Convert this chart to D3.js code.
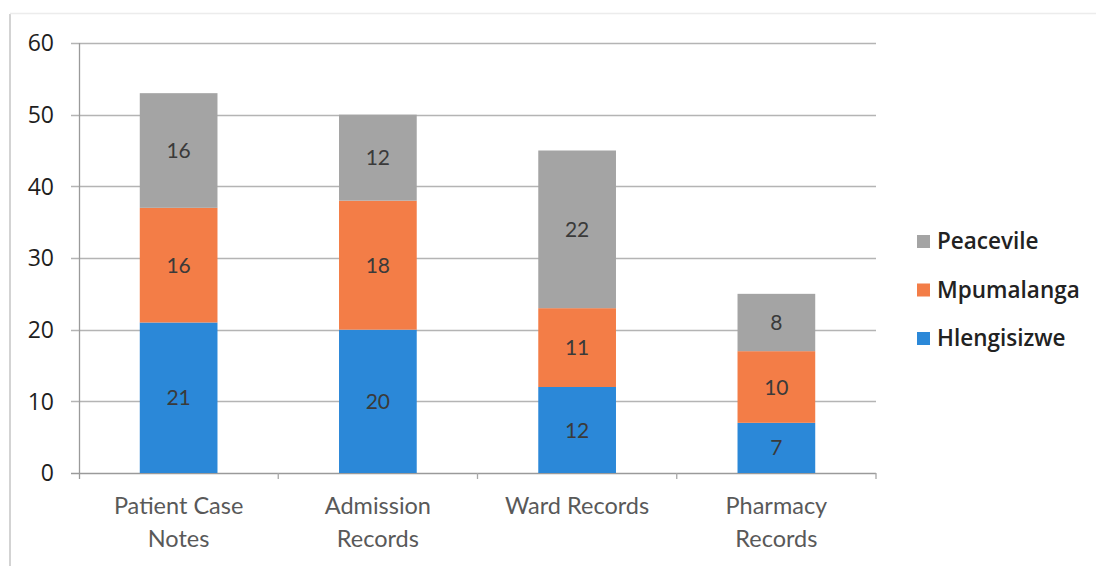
<!DOCTYPE html>
<html>
<head>
<meta charset="utf-8">
<script src="https://cdn.jsdelivr.net/npm/d3@7"></script>
<style>
  html, body { margin: 0; padding: 0; background: #fff; }
  svg { display: block; }
  text { font-family: Lato, "Open Sans", sans-serif; }
</style>
</head>
<body>
<svg id="chart" width="1096" height="566"></svg>
<script>
// Record types audited at each hospital
const categories = [["Patient Case", "Notes"], ["Admission", "Records"], ["Ward Records"], ["Pharmacy", "Records"]];
const hlengisizwe = [21, 20, 12, 7];
const mpumalanga = [16, 18, 11, 10];
const peacevile = [16, 12, 22, 8];
const seriesNames = ["Hlengisizwe", "Mpumalanga", "Peacevile"];
const seriesColors = ["#2b88d8", "#f37d47", "#a4a4a4"];
const yTicks = [0, 10, 20, 30, 40, 50, 60];

const svg = d3.select("#chart");
const margin = { left: 79, right: 876, top: 43, bottom: 473 };

// Outer frame
svg.append("line").attr("x1", 10).attr("x2", 10).attr("y1", 14).attr("y2", 566)
  .attr("stroke", "#c4c4c4").attr("stroke-width", 1.5);
svg.append("line").attr("x1", 10).attr("x2", 1096).attr("y1", 13.5).attr("y2", 13.5)
  .attr("stroke", "#ececec").attr("stroke-width", 1.5);

const keys = categories.map(c => c.join(" "));
const x = d3.scaleBand().domain(keys).range([margin.left, margin.right]).paddingInner(0.61).paddingOuter(0.305);
const y = d3.scaleLinear().domain([0, 60]).range([margin.bottom, margin.top]);

// Horizontal gridlines with short left ticks
svg.append("g").selectAll("line").data(yTicks).join("line")
  .attr("x1", margin.left - 8).attr("x2", margin.right)
  .attr("y1", d => Math.round(y(d)) + 0.5).attr("y2", d => Math.round(y(d)) + 0.5)
  .attr("stroke", d => d === 0 ? "#9a9a9a" : "#b4b4b4").attr("stroke-width", 1.3);

// Vertical axis line
svg.append("line").attr("x1", margin.left + 0.5).attr("x2", margin.left + 0.5)
  .attr("y1", margin.top).attr("y2", margin.bottom + 6)
  .attr("stroke", "#9a9a9a").attr("stroke-width", 1.3);

// Category boundary ticks
const step = x.step();
const bounds = d3.range(1, keys.length + 1).map(i => margin.left + i * step);
svg.append("g").selectAll("line").data(bounds).join("line")
  .attr("x1", d => d).attr("x2", d => d)
  .attr("y1", margin.bottom).attr("y2", margin.bottom + 6)
  .attr("stroke", "#a8a8a8").attr("stroke-width", 1.3);

// Y tick labels
svg.append("g").selectAll("text").data(yTicks).join("text")
  .attr("x", 54).attr("y", d => y(d))
  .attr("dy", "0.36em").attr("text-anchor", "end")
  .attr("font-size", 23).attr("font-weight", 500).attr("fill", "#1e1e1e")
  .style("font-family", "'Open Sans', sans-serif")
  .text(d => d);

// Stacked bars
const rows = keys.map((k, i) => ({ key: k, Hlengisizwe: hlengisizwe[i], Mpumalanga: mpumalanga[i], Peacevile: peacevile[i] }));
const stack = d3.stack().keys(seriesNames)(rows);

const layers = svg.append("g").selectAll("g").data(stack).join("g")
  .attr("fill", (d, i) => seriesColors[i]);
layers.selectAll("rect").data(d => d).join("rect")
  .attr("x", d => x(d.data.key))
  .attr("width", x.bandwidth())
  .attr("y", d => y(d[1]))
  .attr("height", d => y(d[0]) - y(d[1]));

// Value labels inside each segment
layers.selectAll("text").data(d => d.map(s => ({ s, v: s[1] - s[0] }))).join("text")
  .attr("x", d => x(d.s.data.key) + x.bandwidth() / 2)
  .attr("y", d => (y(d.s[0]) + y(d.s[1])) / 2)
  .attr("dy", "0.36em").attr("text-anchor", "middle")
  .attr("font-size", 21).attr("fill", "#3a3a3a")
  .text(d => d.v);

// Category labels
const catG = svg.append("g").selectAll("text").data(categories).join("text")
  .attr("x", (d, i) => x(keys[i]) + x.bandwidth() / 2)
  .attr("y", 514).attr("text-anchor", "middle")
  .attr("font-size", 23.5).attr("fill", "#595959");
catG.selectAll("tspan").data(d => d).join("tspan")
  .attr("x", function () { return d3.select(this.parentNode).attr("x"); })
  .attr("dy", (d, i) => i === 0 ? 0 : 33)
  .text(d => d);

// Legend (reverse order, top to bottom)
const legendItems = seriesNames.map((n, i) => ({ n, c: seriesColors[i] })).reverse();
const lg = svg.append("g").selectAll("g").data(legendItems).join("g")
  .attr("transform", (d, i) => `translate(917, ${241 + i * 48.5})`);
lg.append("rect").attr("x", 0).attr("y", -6).attr("width", 13).attr("height", 13).attr("fill", d => d.c);
lg.append("text").attr("x", 20).attr("y", 0).attr("dy", "0.36em")
  .attr("font-size", 22.5).attr("font-weight", 600).attr("fill", "#222")
  .style("font-family", "'Open Sans', sans-serif")
  .text(d => d.n);
</script>
</body>
</html>
